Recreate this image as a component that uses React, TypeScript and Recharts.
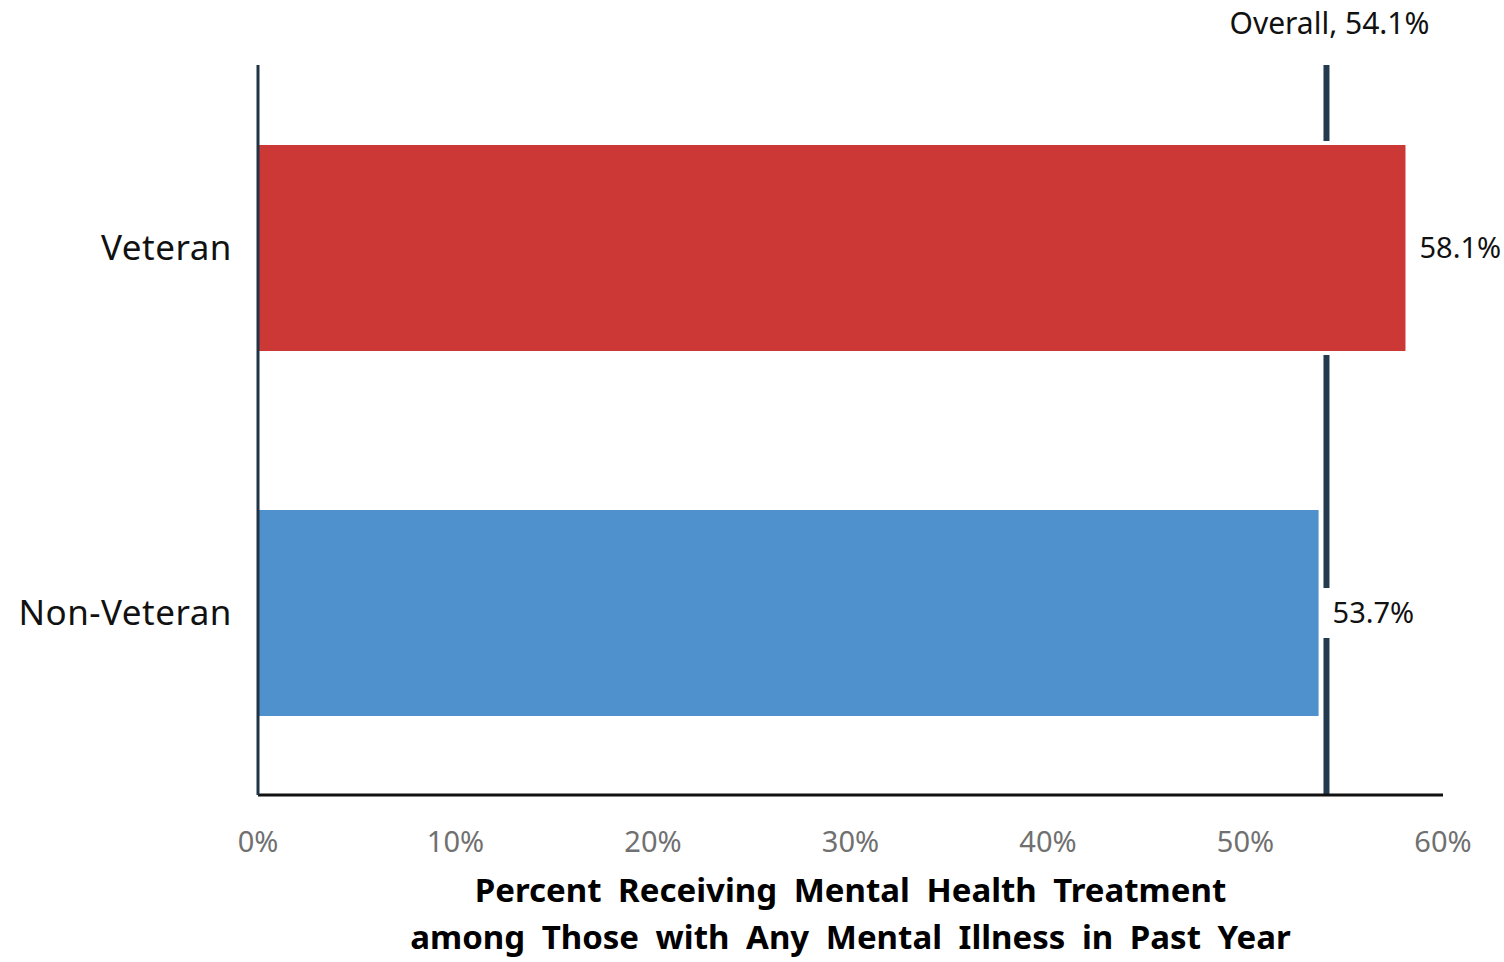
import React from 'react';
import { BarChart, Bar, XAxis, YAxis, ReferenceLine, LabelList, Cell, Label } from 'recharts';

const categories = ['Veteran', 'Non-Veteran'];
const values = [58.1, 53.7];
const barColors = ['#CC3835', '#4F91CC'];
const overall = 54.1;
const overallLabel = 'Overall, 54.1%';
const xTicks = [0, 10, 20, 30, 40, 50, 60];
const titleLines = ['Percent Receiving Mental Health Treatment', 'among Those with Any Mental Illness in Past Year'];

const data = categories.map((name, i) => ({ name, value: values[i] }));

const FONT = '"Noto Sans", "Open Sans", sans-serif';

const BarShape = (props: any) => {
  const { x, y, width, height, fill } = props;
  return (
    <g>
      <rect x={x} y={y - 4} width={width + 4} height={height + 8} fill="#ffffff" />
      <rect x={x} y={y} width={width} height={height} fill={fill} />
    </g>
  );
};

const ValueLabel = (props: any) => {
  const { x, y, width, height, value } = props;
  const cx = x + width + 14;
  const cy = y + height / 2;
  return (
    <g>
      <rect x={cx - 12} y={cy - 25} width={104} height={50} fill="#ffffff" />
      <text x={cx} y={cy} dy="0.35em" fontSize={29} fill="#111111" fontFamily={FONT}>
        {`${value}%`}
      </text>
    </g>
  );
};

const OverallLabel = (props: any) => {
  const vb = props.viewBox || {};
  const x = vb.x ?? 0;
  return (
    <text x={x + 3} y={23} dy="0.35em" textAnchor="middle" fontSize={30} fill="#111111" fontFamily={FONT}>
      {overallLabel}
    </text>
  );
};

const TitleLabel = (props: any) => {
  const vb = props.viewBox || {};
  const cx = (vb.x ?? 0) + (vb.width ?? 0) / 2;
  return (
    <g>
      {titleLines.map((t, i) => (
        <text key={i} x={cx} y={890 + i * 47} dy="0.35em" textAnchor="middle" fontSize={33} fontWeight="bold" fill="#000000" fontFamily={FONT} wordSpacing={8}>
          {t}
        </text>
      ))}
    </g>
  );
};

export default function App() {
  return (
    <div style={{ position: 'absolute', left: 0, top: 0, background: '#fff' }}>
      <BarChart
        width={1504}
        height={962}
        data={data}
        layout="vertical"
        margin={{ top: 65, right: 61, bottom: 0, left: 0 }}
        barSize={206}
      >
        <XAxis
          type="number"
          domain={[0, 60]}
          ticks={xTicks}
          tickFormatter={(v: number) => `${v}%`}
          tick={{ fontSize: 29, fill: '#707070', fontFamily: FONT }}
          tickLine={false}
          tickSize={0}
          tickMargin={36}
          axisLine={{ stroke: '#111111', strokeWidth: 3 }}
          height={167}
          interval={0}
        >
          <Label content={<TitleLabel />} />
        </XAxis>
        <YAxis
          type="category"
          dataKey="name"
          width={258}
          tick={{ fontSize: 35, fill: '#111111', fontFamily: FONT, letterSpacing: 0.5 }}
          tickLine={false}
          tickSize={0}
          tickMargin={26}
          axisLine={{ stroke: '#1f3447', strokeWidth: 3 }}
        />
        <ReferenceLine x={overall} stroke="#233a4f" strokeWidth={6} label={<OverallLabel />} zIndex={100} />
        <Bar dataKey="value" isAnimationActive={false} shape={<BarShape />} zIndex={300}>
          {data.map((d, i) => (
            <Cell key={d.name} fill={barColors[i]} />
          ))}
          <LabelList dataKey="value" content={<ValueLabel />} />
        </Bar>
      </BarChart>
    </div>
  );
}
